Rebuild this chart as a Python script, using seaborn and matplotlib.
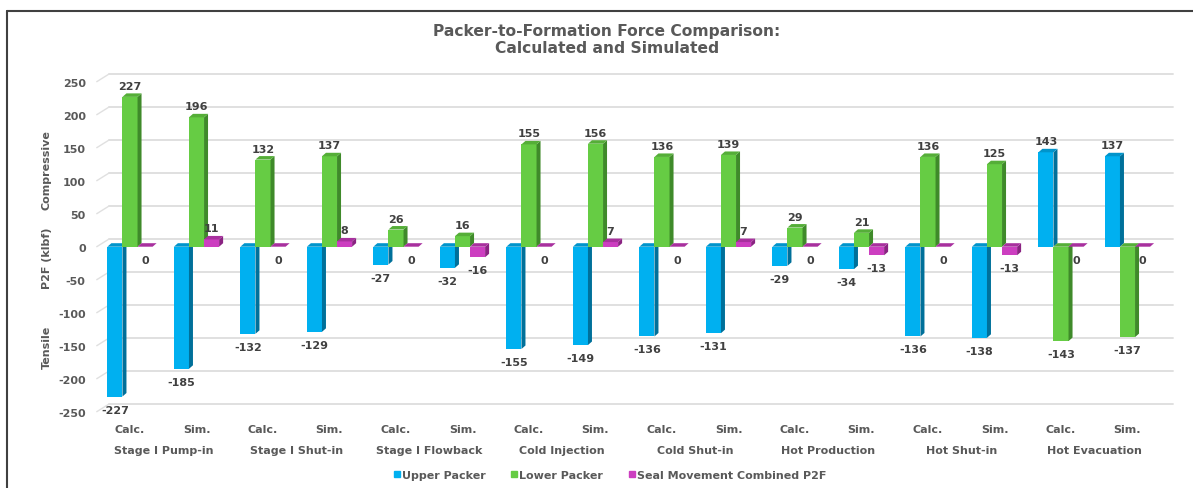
import numpy as np
import pandas as pd
import matplotlib
matplotlib.use("Agg")
import matplotlib.pyplot as plt
from matplotlib.patches import Polygon
from matplotlib.lines import Line2D
import seaborn as sns

# ---- data -----------------------------------------------------------------
stages = ["Stage I Pump-in", "Stage I Shut-in", "Stage I Flowback", "Cold Injection",
          "Cold Shut-in", "Hot Production", "Hot Shut-in", "Hot Evacuation"]
cases = ["Calc.", "Sim."]
series = ["Upper Packer", "Lower Packer", "Seal Movement Combined P2F"]

upper_packer = [-227, -185, -132, -129, -27, -32, -155, -149,
                -136, -131, -29, -34, -136, -138, 143, 137]
lower_packer = [227, 196, 132, 137, 26, 16, 155, 156,
                136, 139, 29, 21, 136, 125, -143, -137]
seal_movement = [0, 11, 0, 8, 0, -16, 0, 7,
                 0, 7, 0, -13, 0, -13, 0, 0]
y_ticks = list(range(-250, 251, 50))

# ---- styling --------------------------------------------------------------
front_colors = ["#00B0F0", "#66CC44", "#CC3EC0"]
side_colors = ["#00709A", "#3F8A2A", "#8A2382"]
top_colors = ["#0094CB", "#55AE38", "#A8309E"]
text_dark = "#404040"
text_gray = "#595959"
grid_color = "#E0E0E0"

keys = [f"{s}|{c}" for s in stages for c in cases]
df = pd.DataFrame({
    "key": keys * 3,
    "series": np.repeat(series, len(keys)),
    "P2F": upper_packer + lower_packer + seal_movement,
})

sns.set_theme(style="white")
plt.rcParams["font.family"] = ["DejaVu Sans"]

W, H = 1193, 489
fig = plt.figure(figsize=(W / 100, H / 100), dpi=100)
fig.patch.set_facecolor("white")

ax_l, ax_r, ax_t, ax_b = 96.75, 1160.75, 82.7, 412.7
ax = fig.add_axes([ax_l / W, 1 - ax_b / H, (ax_r - ax_l) / W, (ax_b - ax_t) / H])

sns.barplot(data=df, x="key", y="P2F", hue="series", order=keys, hue_order=series,
            palette=front_colors, width=0.68, saturation=1, errorbar=None,
            legend=False, linewidth=0, ax=ax)

ax.set_xlim(-0.5, len(keys) - 0.5)
ax.set_ylim(-250, 250)
for sp in ax.spines.values():
    sp.set_visible(False)
ax.set_facecolor("none")
ax.set_xlabel("")
ax.set_ylabel("")

# pixel -> data conversions for the pseudo-3D depth
px_x = (ax_r - ax_l) / (len(keys))
px_y = (ax_b - ax_t) / 500.0
bar_dx, bar_dy = 4.0 / px_x, 3.5 / px_y
wall_dx, wall_dy = 12.0 / px_x, 7.5 / px_y

# back-wall gridlines with a slanted floor edge at the left
x0, x1 = ax.get_xlim()
for t in y_ticks:
    ax.add_line(Line2D([x0 + wall_dx, x1 + wall_dx], [t + wall_dy, t + wall_dy],
                       color=grid_color, lw=1.4, zorder=0.5, clip_on=False))
    ax.add_line(Line2D([x0, x0 + wall_dx], [t, t + wall_dy],
                       color=grid_color, lw=1.0, zorder=0.5, clip_on=False))

# side and top faces of each column, plus value labels
for i, cont in enumerate(ax.containers):
    z = 3 + i * 0.1
    for patch, val in zip(cont.patches, cont.datavalues):
        patch.set_zorder(z)
        bx = patch.get_x()
        bw = patch.get_width()
        by = patch.get_y()
        bh = patch.get_height()
        ylo, yhi = min(by, by + bh), max(by, by + bh)
        xr = bx + bw
        side = Polygon([(xr, ylo), (xr + bar_dx, ylo + bar_dy),
                        (xr + bar_dx, yhi + bar_dy), (xr, yhi)],
                       closed=True, facecolor=side_colors[i], edgecolor="none",
                       zorder=z + 0.01)
        top = Polygon([(bx, yhi), (bx + bar_dx, yhi + bar_dy),
                       (xr + bar_dx, yhi + bar_dy), (xr, yhi)],
                      closed=True, facecolor=top_colors[i], edgecolor="none",
                      zorder=z + 0.01)
        ax.add_patch(side)
        ax.add_patch(top)
        v = int(round(val))
        ax.annotate(f"{v}", (bx + bw / 2, val),
                    xytext=(0, 11 if v > 0 else -13), textcoords="offset pixels",
                    ha="center", va="center", fontsize=8, fontweight="bold",
                    color=text_dark, zorder=10, annotation_clip=False)

# axis ticks
ax.set_yticks(y_ticks)
ax.set_yticklabels([str(t) for t in y_ticks])
ax.set_xticks(range(len(keys)))
ax.set_xticklabels([k.split("|")[1] for k in keys])
ax.tick_params(axis="both", length=0, labelsize=8, labelcolor=text_gray)
ax.tick_params(axis="y", pad=8)
ax.tick_params(axis="x", pad=9)
for lab in ax.get_xticklabels() + ax.get_yticklabels():
    lab.set_fontweight("bold")

# stage names under each Calc./Sim. pair
xt = ax.get_xaxis_transform()
for k, s in enumerate(stages):
    ax.text(2 * k + 0.5, (ax_b - 450.7) / (ax_b - ax_t), s, transform=xt,
            ha="center", va="center", fontsize=8, fontweight="bold", color=text_gray)

# y-axis captions
for txt, yc in [("Compressive", 170), ("P2F (klbf)", 258), ("Tensile", 347)]:
    fig.text(47 / W, 1 - yc / H, txt, rotation=90, ha="center", va="center",
             fontsize=8, fontweight="bold", color=text_gray)

# title
fig.text(607 / W, 1 - 40 / H, "Packer-to-Formation Force Comparison:\nCalculated and Simulated",
         ha="center", va="center", fontsize=11.2, fontweight="bold", color=text_gray,
         linespacing=1.2)

# legend
handles = [Line2D([], [], marker="s", linestyle="", color=c, markersize=4.5)
           for c in front_colors]
leg = ax.legend(handles, series, loc="center",
                bbox_to_anchor=((610 - ax_l) / (ax_r - ax_l), (ax_b - 475.7) / (ax_b - ax_t)),
                ncol=3, frameon=False, handlelength=0.6, handletextpad=0.15,
                columnspacing=2.3, prop={"size": 8, "weight": "bold"})
for t in leg.get_texts():
    t.set_color(text_gray)

# outer frame
fig.add_artist(Line2D([7.5 / W, 7.5 / W], [0, 1 - 11.5 / H], transform=fig.transFigure,
                      color="#404040", lw=1.5))
fig.add_artist(Line2D([7.5 / W, 1], [1 - 11.5 / H, 1 - 11.5 / H], transform=fig.transFigure,
                      color="#404040", lw=1.5))

fig.savefig("out.png", dpi=100, facecolor="white")
